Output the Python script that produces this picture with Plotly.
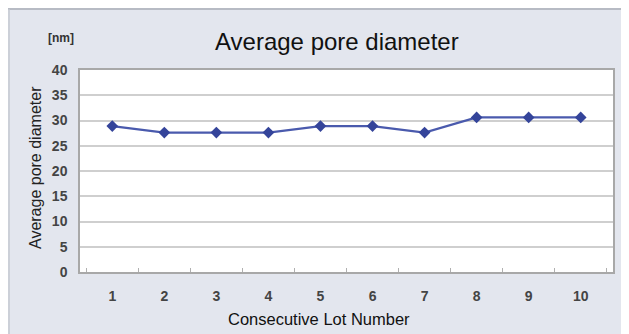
import plotly.graph_objects as go

# data
lots = ["1", "2", "3", "4", "5", "6", "7", "8", "9", "10"]
pore_diameter = [28.9, 27.6, 27.6, 27.6, 28.9, 28.9, 27.6, 30.6, 30.6, 30.6]
y_ticks = [0, 5, 10, 15, 20, 25, 30, 35, 40]

# the page body keeps its default 8px margin, which gives the white strip
# on the left and top of the reference
W, H = 619, 326
L, R, T, B = 72, 14, 62, 62
pw, ph = W - L - R, H - T - B
OFF = 8


def px(x):
    return (x - OFF - L) / pw


def py(y):
    return (H - B - (y - OFF)) / ph


def label(text, x, y, size, **kw):
    font = dict(size=size, color=kw.pop("color", "#111111"))
    if "weight" in kw:
        font["weight"] = kw.pop("weight")
    return dict(text=text, x=px(x), y=py(y), xref="paper", yref="paper",
                xanchor="center", yanchor="middle", showarrow=False,
                font=font, **kw)


fig = go.Figure()
fig.add_trace(go.Scatter(
    x=lots, y=pore_diameter,
    mode="lines+markers",
    line=dict(color="#4a5aad", width=2.2),
    marker=dict(symbol="diamond", size=9, color="#34449a"),
    showlegend=False,
))

shapes = [
    # thin grey frame on the panel's top and left edges
    dict(type="line", xref="paper", yref="paper", layer="below",
         x0=px(8), x1=px(629), y0=py(9), y1=py(9),
         line=dict(color="#a9adb6", width=1.5)),
    dict(type="line", xref="paper", yref="paper", layer="below",
         x0=px(9), x1=px(9), y0=py(334), y1=py(9),
         line=dict(color="#c4c8d0", width=1.5)),
    # white plotting area
    dict(type="rect", xref="paper", yref="paper", layer="below",
         x0=0, x1=1, y0=0, y1=1, fillcolor="white", line=dict(width=0)),
]

annotations = [
    label("Average pore diameter", 337, 41, 24),
    label("[nm]", 61, 38, 12, color="#333333", weight="bold"),
    label("Average pore diameter", 35, 168, 16, color="#222222", textangle=-90),
    label("Consecutive Lot Number", 319, 319, 16.5),
]

fig.update_layout(
    width=W, height=H,
    margin=dict(l=L, r=R, t=T, b=B),
    paper_bgcolor="#e3e6ee",
    plot_bgcolor="rgba(0,0,0,0)",
    font=dict(family="Liberation Sans, Arial, sans-serif"),
    shapes=shapes,
    annotations=annotations,
)
fig.update_xaxes(
    type="category", tickson="boundaries", ticks="inside", ticklen=4,
    tickcolor="#b0b0b0", showgrid=False,
    showline=True, linecolor="#a8a8a8", linewidth=1.5, mirror=True,
    tickfont=dict(size=14, color="#444444", weight="bold"),
    ticklabelstandoff=10,
)
fig.update_yaxes(
    range=[0, 40], tickvals=y_ticks, ticks="",
    showgrid=True, gridcolor="#cfcfcf", gridwidth=1.8,
    showline=True, linecolor="#a8a8a8", linewidth=1.5, mirror=True,
    zeroline=False,
    tickfont=dict(size=14, color="#444444", weight="bold"),
    ticklabelstandoff=8,
)

fig.write_html("out.html")
